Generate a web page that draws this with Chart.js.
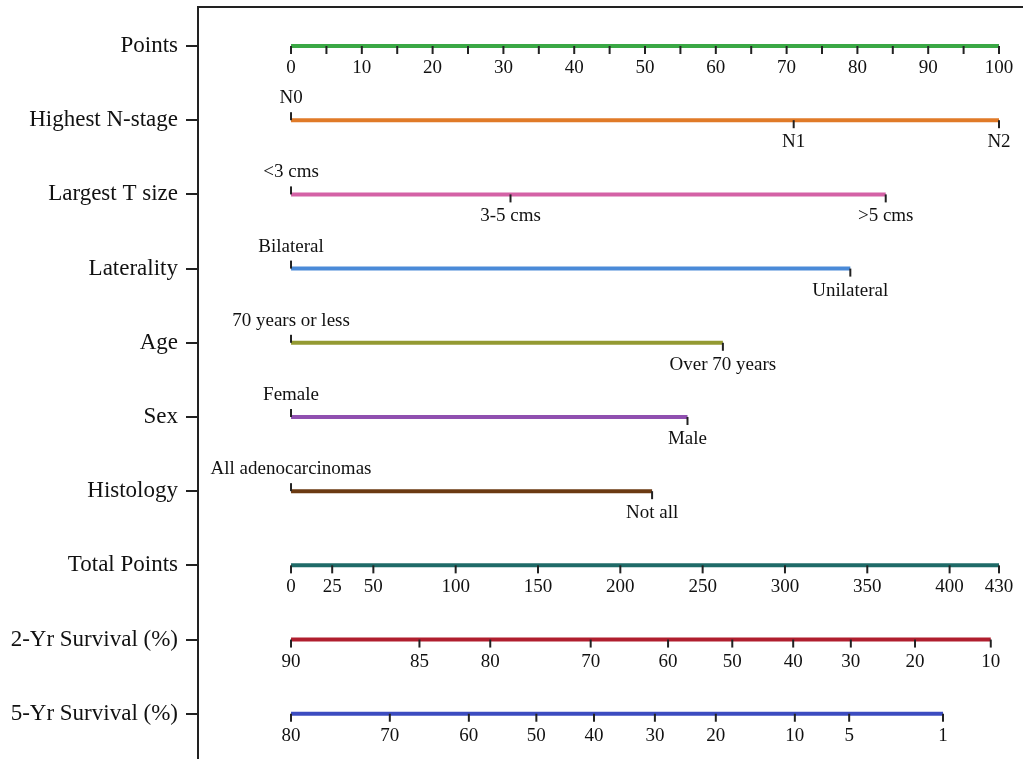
<!DOCTYPE html>
<html lang="en">
<head>
    <meta charset="UTF-8">
    <title>Nomogram</title>
    <style>
        body {
            margin: 0;
            background-color: #ffffff;
        }
        canvas {
            display: block;
        }
    </style>
    <script src="https://cdn.jsdelivr.net/npm/chart.js"></script>
</head>
<body>
    <canvas id="nomogram" width="1023" height="759"></canvas>

    <script>
        // row names on the left axis
        var rowNames = ['Points', 'Highest N-stage', 'Largest T size', 'Laterality', 'Age', 'Sex',
            'Histology', 'Total Points', '2-Yr Survival (%)', '5-Yr Survival (%)'];

        // points scale
        var pointLabelValues = [0, 10, 20, 30, 40, 50, 60, 70, 80, 90, 100];
        var pointMinorValues = [5, 15, 25, 35, 45, 55, 65, 75, 85, 95];

        // predictors: category labels and their points
        var nStageLabels = ['N0', 'N1', 'N2'];
        var nStagePoints = [0, 71, 100];
        var tSizeLabels = ['<3 cms', '3-5 cms', '>5 cms'];
        var tSizePoints = [0, 31, 84];
        var lateralityLabels = ['Bilateral', 'Unilateral'];
        var lateralityPoints = [0, 79];
        var ageLabels = ['70 years or less', 'Over 70 years'];
        var agePoints = [0, 61];
        var sexLabels = ['Female', 'Male'];
        var sexPoints = [0, 56];
        var histologyLabels = ['All adenocarcinomas', 'Not all'];
        var histologyPoints = [0, 51];

        // total points scale
        var totalPointTicks = [0, 25, 50, 100, 150, 200, 250, 300, 350, 400, 430];

        // survival scales (position in total points)
        var surv2Labels = ['90', '85', '80', '70', '60', '50', '40', '30', '20', '10'];
        var surv2Total = [0, 78, 121, 182, 229, 268, 305, 340, 379, 425];
        var surv5Labels = ['80', '70', '60', '50', '40', '30', '20', '10', '5', '1'];
        var surv5Total = [0, 60, 108, 149, 184, 221, 258, 306, 339, 396];

        var rowColors = ['#3aa845', '#e07a28', '#d462a6', '#4a8ad8', '#949a32', '#9050b0',
            '#6b3a12', '#1f6b68', '#b01e2e', '#3c4cc0'];

        var xMin = -13.14;
        var xMax = 103.39;
        var totalPerPoint = 4.3;

        // rows: which scale, ticks, labels, side of first label
        var rows = [
            { axis: 'x', values: pointLabelValues.concat(pointMinorValues),
              texts: pointLabelValues.map(String).concat(pointMinorValues.map(function() { return ''; })),
              firstAbove: false },
            { axis: 'x', values: nStagePoints, texts: nStageLabels, firstAbove: true },
            { axis: 'x', values: tSizePoints, texts: tSizeLabels, firstAbove: true },
            { axis: 'x', values: lateralityPoints, texts: lateralityLabels, firstAbove: true },
            { axis: 'x', values: agePoints, texts: ageLabels, firstAbove: true },
            { axis: 'x', values: sexPoints, texts: sexLabels, firstAbove: true },
            { axis: 'x', values: histologyPoints, texts: histologyLabels, firstAbove: true },
            { axis: 'xTotal', values: totalPointTicks, texts: totalPointTicks.map(String), firstAbove: false },
            { axis: 'xTotal', values: surv2Total, texts: surv2Labels, firstAbove: false },
            { axis: 'xTotal', values: surv5Total, texts: surv5Labels, firstAbove: false }
        ];

        var datasets = rows.map(function(row, i) {
            var lo = Math.min.apply(null, row.values);
            var hi = Math.max.apply(null, row.values);
            return {
                label: rowNames[i],
                data: [{ x: lo, y: i }, { x: hi, y: i }],
                xAxisID: row.axis,
                yAxisID: 'y',
                borderColor: rowColors[i],
                borderWidth: 4,
                pointRadius: 0,
                fill: false
            };
        });

        var tickPlugin = {
            id: 'nomoTicks',
            afterDatasetsDraw: function(chart) {
                var ctx = chart.ctx;
                var yScale = chart.scales.y;
                ctx.save();
                ctx.strokeStyle = '#222222';
                ctx.lineWidth = 2;
                ctx.fillStyle = '#111111';
                ctx.font = '19px "Liberation Serif"';
                ctx.textAlign = 'center';
                ctx.textBaseline = 'middle';
                rows.forEach(function(row, i) {
                    var xScale = chart.scales[row.axis];
                    var py = yScale.getPixelForValue(i);
                    row.values.forEach(function(v, k) {
                        var px = xScale.getPixelForValue(v);
                        var up = row.firstAbove && k === 0;
                        var dir = up ? -1 : 1;
                        ctx.beginPath();
                        ctx.moveTo(px, py);
                        ctx.lineTo(px, py + dir * 8);
                        ctx.stroke();
                        if (row.texts[k]) {
                            ctx.fillText(row.texts[k], px, py + dir * 22);
                        }
                    });
                });
                ctx.restore();
            }
        };

        Chart.defaults.font.family = '"Liberation Serif", "Times New Roman", serif';
        Chart.defaults.color = '#111111';

        new Chart(document.getElementById('nomogram').getContext('2d'), {
            type: 'line',
            data: { datasets: datasets },
            options: {
                responsive: false,
                animation: false,
                devicePixelRatio: 1,
                layout: { padding: { top: 7, right: 0, bottom: 0, left: 0 } },
                plugins: {
                    legend: { display: false },
                    tooltip: { enabled: false }
                },
                scales: {
                    x: {
                        type: 'linear',
                        position: 'top',
                        min: xMin,
                        max: xMax,
                        afterFit: function(axis) {
                            axis.height = 0;
                        },
                        grid: { display: false },
                        ticks: { display: false },
                        border: { display: true, color: '#222222', width: 2 }
                    },
                    xTotal: {
                        type: 'linear',
                        display: false,
                        min: xMin * totalPerPoint,
                        max: xMax * totalPerPoint
                    },
                    y: {
                        type: 'linear',
                        reverse: true,
                        min: -0.526,
                        max: 9.61,
                        afterBuildTicks: function(axis) {
                            axis.ticks = rowNames.map(function(n, i) { return { value: i }; });
                        },
                        afterFit: function(axis) {
                            axis.width = 198;
                            axis.paddingTop = 0;
                            axis.paddingBottom = 0;
                        },
                        ticks: {
                            autoSkip: false,
                            padding: 8,
                            color: '#111111',
                            font: { size: 23 },
                            callback: function(v) { return rowNames[v]; }
                        },
                        grid: {
                            drawOnChartArea: false,
                            tickLength: 12,
                            color: '#222222',
                            lineWidth: 2
                        },
                        border: { display: true, color: '#222222', width: 2 }
                    }
                }
            },
            plugins: [tickPlugin]
        });
    </script>
</body>
</html>
